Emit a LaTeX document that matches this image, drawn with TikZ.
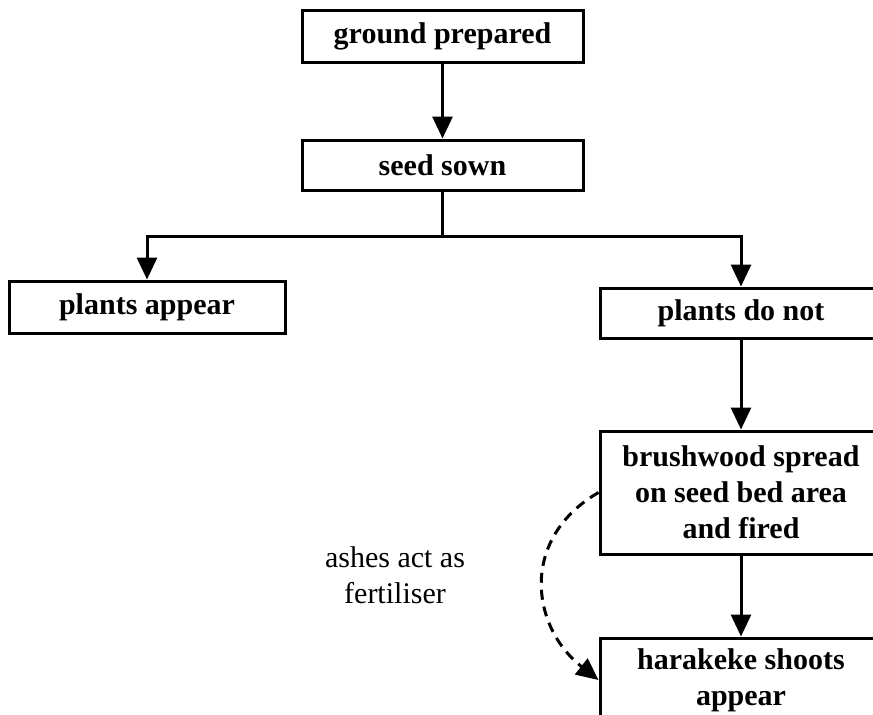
\documentclass[tikz,border=0pt]{standalone}
\usepackage{fontspec}
\setmainfont{Liberation Serif}
\usetikzlibrary{arrows.meta}
\tikzset{
  stepbox/.style={draw, line width=3pt, rectangle, inner sep=0pt, align=center,
    font=\fontsize{30}{36}\selectfont\bfseries},
  flow/.style={line width=3pt, -{Triangle[width=20pt,length=22pt]}},
  link/.style={line width=3pt},
  hint/.style={line width=3pt, dash pattern=on 10pt off 7pt,
    -{Triangle[width=20pt,length=22pt]}},
  note/.style={align=center, font=\fontsize{30}{36}\selectfont}
}
\begin{document}
\begin{tikzpicture}[x=1pt,y=-1pt]
\useasboundingbox (0,0) rectangle (873,715);
\clip (0,0) rectangle (873,715);

% process boxes
\node[stepbox, minimum width=281pt, minimum height=52pt] (ground) at (442.5,36) {ground prepared};
\node[stepbox, minimum width=281pt, minimum height=50pt] (seed) at (442.5,165) {seed sown};
\node[stepbox, minimum width=276pt, minimum height=52pt] (appear) at (147,307) {plants appear};
\node[stepbox, minimum width=282pt, minimum height=50pt] (donot) at (741,313) {plants do not};
\node[stepbox, minimum width=282pt, minimum height=123pt] (brush) at (741,492.5)
  {brushwood spread\\on seed bed area\\and fired};
\node[stepbox, minimum width=282pt, minimum height=84pt] (shoots) at (741,680)
  {harakeke shoots\\appear};

% connectors
\coordinate (split) at (442.5,236);
\draw[flow] (ground) -- (seed);
\draw[link] (seed.south) -- (split);
\draw[flow] (split) -| (appear.north);
\draw[flow] (split) -| (donot.north);
\draw[flow] (donot) -- (brush);
\draw[flow] (brush) -- (shoots);

% side effect of the fire
\draw[hint] (brush.west) .. controls (520,538) and (530,626) .. (shoots.west);
\node[note] (ashes) at (395,575) {ashes act as\\fertiliser};
\end{tikzpicture}
\end{document}
